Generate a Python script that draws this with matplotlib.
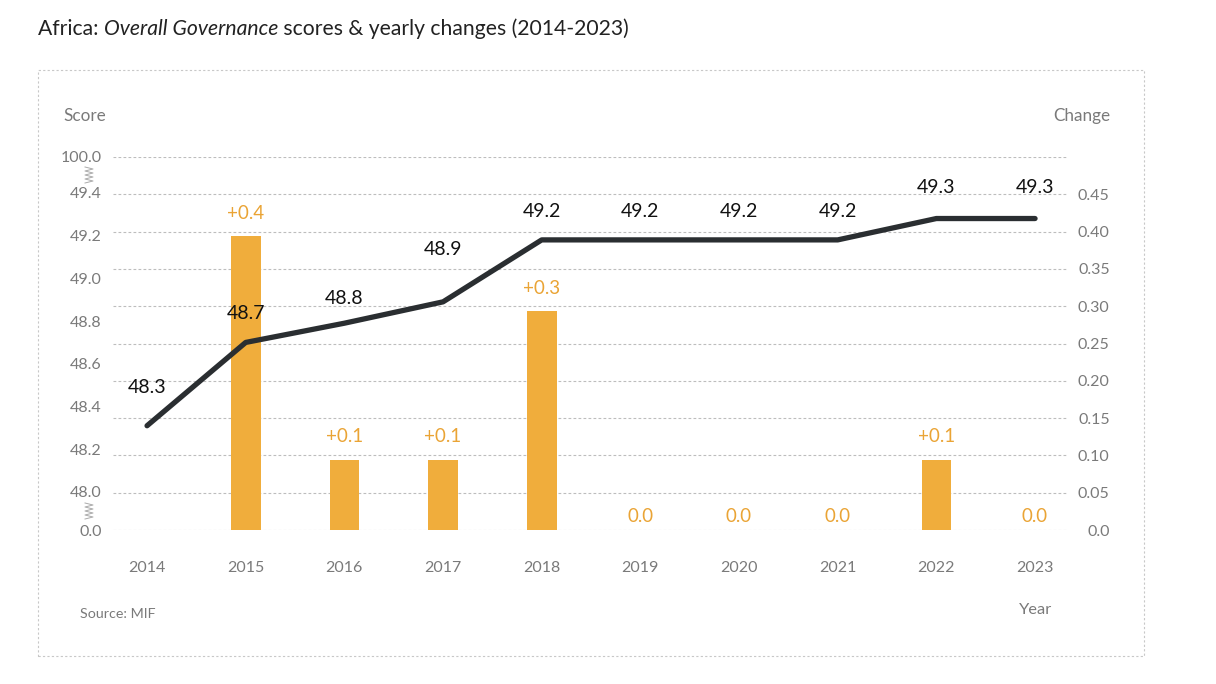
import matplotlib.pyplot as plt
from matplotlib.patches import Rectangle
import numpy as np

plt.rcParams['font.family'] = ['Lato', 'DejaVu Sans']

# datos
anios = ['2014', '2015', '2016', '2017', '2018', '2019', '2020', '2021', '2022', '2023']
puntajes = [48.31, 48.70, 48.79, 48.89, 49.18, 49.18, 49.18, 49.18, 49.28, 49.28]
etiquetas_puntaje = ['48.3', '48.7', '48.8', '48.9', '49.2', '49.2', '49.2', '49.2', '49.3', '49.3']
cambios = [None, 0.394, 0.094, 0.094, 0.293, 0.0, 0.0, 0.0, 0.094, 0.0]
ticks_puntaje = [47.822, 48.0, 48.2, 48.4, 48.6, 48.8, 49.0, 49.2, 49.4, 49.568]
etiquetas_ticks_puntaje = ['0.0', '48.0', '48.2', '48.4', '48.6', '48.8', '49.0', '49.2', '49.4', '100.0']
ticks_cambio = [0.0, 0.05, 0.10, 0.15, 0.20, 0.25, 0.30, 0.35, 0.40, 0.45, 0.50]
etiquetas_ticks_cambio = ['0.0', '0.05', '0.10', '0.15', '0.20', '0.25', '0.30', '0.35', '0.40', '0.45', '']

gris = '#7a7a7a'
naranja = '#f0ad3c'
naranja_txt = '#eaa435'
oscuro = '#2a2e31'

fig = plt.figure(figsize=(12.16, 6.84), dpi=100)
W, H = 1216, 684

# marco punteado
fig.patches.append(Rectangle((38 / W, 1 - 656 / H), (1144 - 38) / W, (656 - 70) / H,
                             transform=fig.transFigure, fill=False, edgecolor='#c8c8c8',
                             linestyle=(0, (2, 2)), linewidth=0.8))

ax_bar = fig.add_axes([113 / W, 1 - 530 / H, (1068 - 113) / W, (530 - 157) / H])
ax = ax_bar.twinx()

x = np.arange(len(anios))

# barras (cambios)
for i, c in enumerate(cambios):
    if c is None:
        continue
    if c > 0:
        ax_bar.bar(x[i], c, width=0.3, color=naranja, zorder=2)
        txt = f'+{c:.1f}'
        off = 23
    else:
        txt = f'{c:.1f}'
        off = 14
    ax_bar.annotate(txt, (x[i], c), xytext=(0, off * 0.72), textcoords='offset points',
                    ha='center', va='center', color=naranja_txt, fontsize=13.5)

ax_bar.set_ylim(0, 0.5)
ax_bar.set_yticks(ticks_cambio)
ax_bar.set_yticklabels(etiquetas_ticks_cambio)
ax_bar.yaxis.tick_right()
ax_bar.tick_params(axis='y', length=0, pad=30, labelsize=11.5, labelcolor=gris)
for t in ax_bar.get_yticklabels():
    t.set_horizontalalignment('right')
ax_bar.grid(axis='y', color='#bdbdbd', linestyle=(0, (2.5, 2)), linewidth=0.8, zorder=0)
ax_bar.set_axisbelow(True)

ax_bar.set_xlim(-0.345, 9.334)
ax_bar.set_xticks(x)
ax_bar.set_xticklabels(anios)
ax_bar.tick_params(axis='x', length=0, pad=22, labelsize=11.5, labelcolor=gris)

# linea (puntajes)
ax.plot(x, puntajes, color=oscuro, linewidth=3.8, solid_capstyle='round',
        solid_joinstyle='round', zorder=3)
desfases = [38, 29, 25, 52, 28, 28, 28, 28, 31, 31]
for i, (p, e) in enumerate(zip(puntajes, etiquetas_puntaje)):
    ax.annotate(e, (x[i], p), xytext=(0, desfases[i] * 0.72), textcoords='offset points',
                ha='center', va='center', color='#111111', fontsize=14)

ax.set_ylim(47.822, 49.568)
ax.set_yticks(ticks_puntaje)
ax.set_yticklabels(etiquetas_ticks_puntaje)
ax.yaxis.tick_left()
ax.tick_params(axis='y', length=0, pad=8, labelsize=11.5, labelcolor=gris)

for a in (ax, ax_bar):
    for s in a.spines.values():
        s.set_visible(False)

# simbolos de corte del eje
for yc in (175, 511):
    zx = [89 + (4 if k % 2 else -4) for k in range(9)]
    zy = [yc - 8 + 2 * k for k in range(9)]
    fig.add_artist(plt.Line2D([v / W for v in zx], [1 - v / H for v in zy],
                              transform=fig.transFigure, color='#aaaaaa', linewidth=0.7))

# titulo con parte en cursiva
t1 = fig.text(38 / W, 1 - 29 / H, 'Africa: ', fontsize=15.2, color='#222222', va='center')
fig.canvas.draw()
bb = t1.get_window_extent()
t2 = fig.text(bb.x1 / W, 1 - 29 / H, 'Overall Governance', fontsize=15.2, color='#222222',
              va='center', style='italic')
bb2 = t2.get_window_extent()
fig.text(bb2.x1 / W, 1 - 29 / H, ' scores & yearly changes (2014-2023)', fontsize=15.2,
         color='#222222', va='center')

fig.text(85 / W, 1 - 116 / H, 'Score', fontsize=12.3, color=gris, ha='center', va='center')
fig.text(1082 / W, 1 - 116 / H, 'Change', fontsize=12.3, color=gris, ha='center', va='center')
fig.text(1036 / W, 1 - 610 / H, 'Year', fontsize=11.8, color=gris, ha='center', va='center')
fig.text(80 / W, 1 - 614 / H, 'Source: MIF', fontsize=10.3, color=gris, ha='left', va='center')

fig.savefig('out.png', dpi=100)
